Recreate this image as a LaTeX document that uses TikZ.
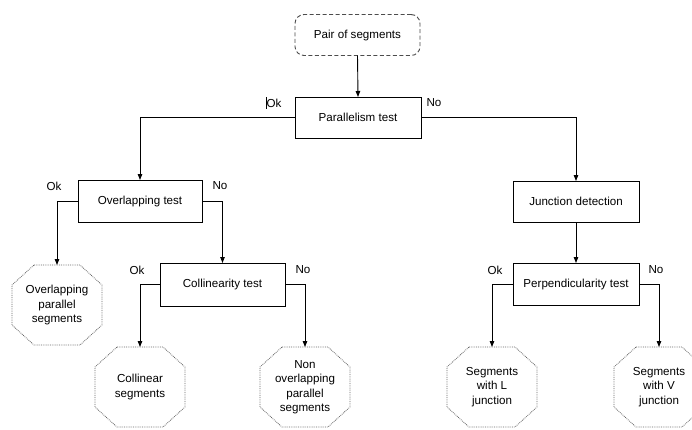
\documentclass[tikz,border=0pt]{standalone}
\usepackage{fontspec}
\setmainfont{Liberation Sans}
\usetikzlibrary{arrows.meta}
\tikzset{
  txt/.style={font=\fontsize{11.6}{14.5}\selectfont, text=black},
  testbox/.style={txt, draw=black, line width=0.9pt, minimum width=125, minimum height=42, inner sep=0, outer sep=0},
  startbox/.style={txt, draw=black!70, dashed, dash pattern=on 4pt off 2.5pt, line width=0.9pt, rounded corners=9, minimum width=125, minimum height=41, inner sep=0, outer sep=0},
  octa/.style={txt, draw=none, minimum width=90, minimum height=80, align=center, inner sep=0, outer sep=0},
  octline/.style={draw=black!60, densely dotted, line width=0.8pt},
  arr/.style={draw=black, line width=0.9pt, -{Triangle[length=6pt,width=4.5pt]}},
  lbl/.style={txt, inner sep=0}
}
\newcommand\octpath[1]{\draw[octline] ([xshift=22]#1.north west) -- ([xshift=-22]#1.north east) -- ([yshift=-20]#1.north east) -- ([yshift=20]#1.south east) -- ([xshift=-22]#1.south east) -- ([xshift=22]#1.south west) -- ([yshift=20]#1.south west) -- ([yshift=-20]#1.north west) -- cycle;}
\begin{document}
\begin{tikzpicture}[x=1pt,y=-1pt]
\useasboundingbox (0,0) rectangle (692,429);
\fill[white] (0,0) rectangle (692,429);
\begin{scope}
\clip (0,0) rectangle (692,429);
\node[startbox] (pair) at (357.5,35) {Pair of segments};
\node[testbox, minimum width=126, minimum height=41] (par) at (358,117.5) {Parallelism test};
\node[testbox, minimum width=124] (ovl) at (140,201) {Overlapping test};
\node[testbox, minimum height=43] (col) at (222.5,284.5) {Collinearity test};
\node[testbox, minimum width=126, minimum height=41] (jun) at (576,201.5) {Junction detection};
\node[testbox, minimum width=126] (perp) at (576,284) {Perpendicularity test};

\node[octa] (o1) at (57,305) {Overlapping\\parallel\\segments};
\node[octa] (o2) at (140,387) {Collinear\\segments};
\node[octa] (o3) at (305,387) {Non\\overlapping\\parallel\\segments};
\node[octa] (o4) at (492,387) {Segments\\with L\\junction};
\node[octa] (o5) at (659,387) {Segments\\with V\\junction};
\foreach \n in {o1,o2,o3,o4,o5} {\octpath{\n}}

\draw[arr] (pair.south) -- (par.north);
\draw[arr] (par.west) -| (ovl.north);
\draw[arr] (par.east) -| (jun.north);
\draw[arr] (ovl.west) -| (o1.north);
\draw[arr] (ovl.east) -| (col.north);
\draw[arr] (col.west) -| (o2.north);
\draw[arr] (col.east) -| (o3.north);
\draw[arr] (jun.south) -- (perp.north);
\draw[arr] (perp.west) -| (o4.north);
\draw[arr] (perp.east) -| (o5.north);

\node[lbl] (l1) at (274,103) {Ok};
\draw[line width=0.6pt] (266,97) -- (266,109);
\node[lbl] (l2) at (434,103) {No};
\node[lbl] (l3) at (54,186) {Ok};
\node[lbl] (l4) at (220,186) {No};
\node[lbl] (l5) at (137,270) {Ok};
\node[lbl] (l6) at (303,270) {No};
\node[lbl] (l7) at (495,270) {Ok};
\node[lbl] (l8) at (656,270) {No};
\end{scope}
\end{tikzpicture}
\end{document}
